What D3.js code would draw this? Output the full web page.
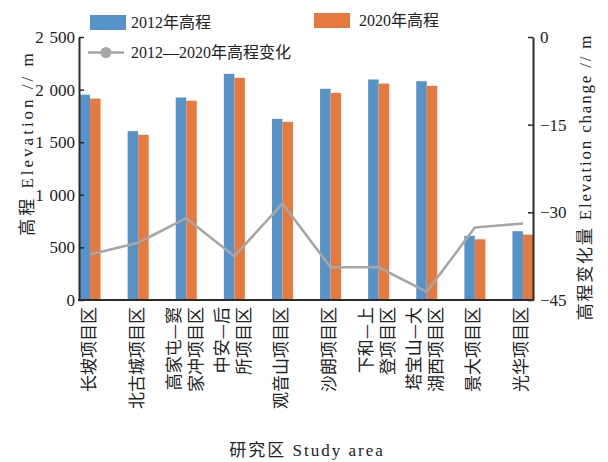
<!DOCTYPE html>
<html>
<head>
<meta charset="utf-8">
<script src="https://cdn.jsdelivr.net/npm/d3@7/dist/d3.min.js"></script>
<style>
  html, body { margin: 0; padding: 0; background: #ffffff; }
  svg { display: block; }
  text { font-family: "Liberation Serif", "Times New Roman", "Noto Sans CJK SC", serif; fill: #222; }
</style>
</head>
<body>
<svg id="chart" width="608" height="462"></svg>
<script>
// Study areas (x categories) and how each label wraps onto vertical columns
const categories = ["长坡项目区", "北古城项目区", "高家屯—窦家冲项目区", "中安—后所项目区", "观音山项目区",
                    "沙朗项目区", "下和—上登项目区", "塔宝山—大湖西项目区", "景大项目区", "光华项目区"];
const labelLines = [["长坡项目区"], ["北古城项目区"], ["高家屯—窦", "家冲项目区"], ["中安—后", "所项目区"], ["观音山项目区"],
                    ["沙朗项目区"], ["下和—上", "登项目区"], ["塔宝山—大", "湖西项目区"], ["景大项目区"], ["光华项目区"]];

// Elevation (m) in 2012 and 2020, and the 2012–2020 change (m)
const elev2012 = [1952, 1605, 1925, 2150, 1722, 2008, 2096, 2080, 610, 654];
const elev2020 = [1915, 1570, 1894, 2112, 1694, 1969, 2057, 2036, 577, 622];
const elevChange = [-37.2, -35.2, -31.0, -37.5, -28.5, -39.4, -39.4, -43.6, -32.6, -31.9];

// Axis ticks
const leftTicks = [0, 500, 1000, 1500, 2000, 2500];
const rightTicks = [0, -15, -30, -45];

// Legend entries
const legendBars = ["2012年高程", "2020年高程"];
const legendLine = "2012—2020年高程变化";

const colors = { y2012: "#5693c9", y2020: "#e5793f", change: "#a6a6a6", axis: "#2a2a2a" };

const svg = d3.select("#chart");
const axisLeftX = 79, axisRightX = 533, plotTop = 37, plotBottom = 300;

const x = d3.scaleBand().domain(categories).range([66, 547]).padding(0);
const series = ["y2012", "y2020"];
const barW = 10.5;
const xInner = d3.scaleBand().domain(series)
  .range([x.bandwidth() / 2 - barW, x.bandwidth() / 2 + barW]).padding(0);
const yL = d3.scaleLinear().domain([0, 2500]).range([plotBottom, plotTop]);
const yR = d3.scaleLinear().domain([-45, 0]).range([plotBottom, plotTop]);

const rows = categories.map((c, i) => ({ cat: c, y2012: elev2012[i], y2020: elev2020[i], change: elevChange[i], lines: labelLines[i] }));

// Bars
const groups = svg.append("g").selectAll("g").data(rows).join("g")
  .attr("transform", d => `translate(${x(d.cat)},0)`);
groups.selectAll("rect").data(d => series.map(s => ({ s, v: d[s] }))).join("rect")
  .attr("x", d => xInner(d.s))
  .attr("width", xInner.bandwidth())
  .attr("y", d => yL(d.v))
  .attr("height", d => yL(0) - yL(d.v))
  .attr("fill", d => colors[d.s]);

// Change line on the right axis
const line = d3.line().x(d => x(d.cat) + x.bandwidth() / 2).y(d => yR(d.change));
svg.append("path").datum(rows)
  .attr("d", line)
  .attr("fill", "none")
  .attr("stroke", colors.change)
  .attr("stroke-width", 2.6)
  .attr("stroke-linejoin", "round");

// Axes
const locale = d3.formatLocale({ decimal: ".", thousands: "\u2004", grouping: [3], currency: ["", ""], minus: "−" });
const fmtL = locale.format(",d");
const fmtR = locale.format("d");

const gL = svg.append("g").attr("transform", `translate(${axisLeftX},0)`)
  .call(d3.axisLeft(yL).tickValues(leftTicks).tickFormat(fmtL).tickSizeInner(-5).tickSizeOuter(0).tickPadding(4));
const gR = svg.append("g").attr("transform", `translate(${axisRightX},0)`)
  .call(d3.axisRight(yR).tickValues(rightTicks).tickFormat(fmtR).tickSizeInner(-5).tickSizeOuter(0).tickPadding(7));
[gL, gR].forEach(g => {
  g.select(".domain").attr("stroke", colors.axis).attr("stroke-width", 2);
  g.selectAll(".tick line").attr("stroke", colors.axis).attr("stroke-width", 1.5);
  g.selectAll(".tick text").attr("fill", "#222").style("font-size", "17px")
    .style("font-family", '"Liberation Serif", serif');
});

// Baseline
svg.append("line")
  .attr("x1", axisLeftX - 1).attr("x2", axisRightX + 1)
  .attr("y1", yL(0)).attr("y2", yL(0))
  .attr("stroke", colors.axis).attr("stroke-width", 2);

// Category labels, rotated, one column per line
const lab = svg.append("g").selectAll("g").data(rows).join("g")
  .attr("transform", d => `translate(${x(d.cat) + x.bandwidth() / 2 - 3},${plotBottom + 7})`);
lab.selectAll("text").data(d => d.lines.map((t, j) => ({ t, off: (j - (d.lines.length - 1) / 2) * 22 }))).join("text")
  .attr("transform", d => `translate(${d.off},0) rotate(-90)`)
  .attr("text-anchor", "end")
  .attr("dominant-baseline", "central")
  .style("font-size", "17px")
  .style("font-family", '"Noto Sans CJK SC", sans-serif')
  .text(d => d.t);

// Axis titles
svg.append("text")
  .attr("transform", `translate(33,143) rotate(-90)`)
  .attr("text-anchor", "middle")
  .style("font-size", "17px")
  .style("letter-spacing", "3px")
  .text("高程 Elevation // m");
svg.append("text")
  .attr("transform", `translate(591,177) rotate(-90)`)
  .attr("text-anchor", "middle")
  .style("font-size", "17px")
  .style("letter-spacing", "1.8px")
  .text("高程变化量 Elevation change // m");
svg.append("text")
  .attr("x", 307).attr("y", 456)
  .attr("text-anchor", "middle")
  .style("font-size", "17px")
  .style("letter-spacing", "2px")
  .text("研究区 Study area");

// Legend
const leg = svg.append("g");
const legPos = [{ x: 90, y: 15, tx: 131 }, { x: 314, y: 13, tx: 359 }];
legendBars.forEach((t, i) => {
  const p = legPos[i];
  leg.append("rect").attr("x", p.x).attr("y", p.y).attr("width", 36).attr("height", 15).attr("fill", colors[series[i]]);
  leg.append("text").attr("x", p.tx).attr("y", p.y + 7.5).attr("dominant-baseline", "central")
    .style("font-size", "16px").text(t);
});
leg.append("line").attr("x1", 88).attr("x2", 124).attr("y1", 52.5).attr("y2", 52.5)
  .attr("stroke", colors.change).attr("stroke-width", 2.6);
leg.append("circle").attr("cx", 106).attr("cy", 52.5).attr("r", 5.5).attr("fill", colors.change);
leg.append("text").attr("x", 131).attr("y", 52.5).attr("dominant-baseline", "central")
  .style("font-size", "16px").text(legendLine);
</script>
</body>
</html>
